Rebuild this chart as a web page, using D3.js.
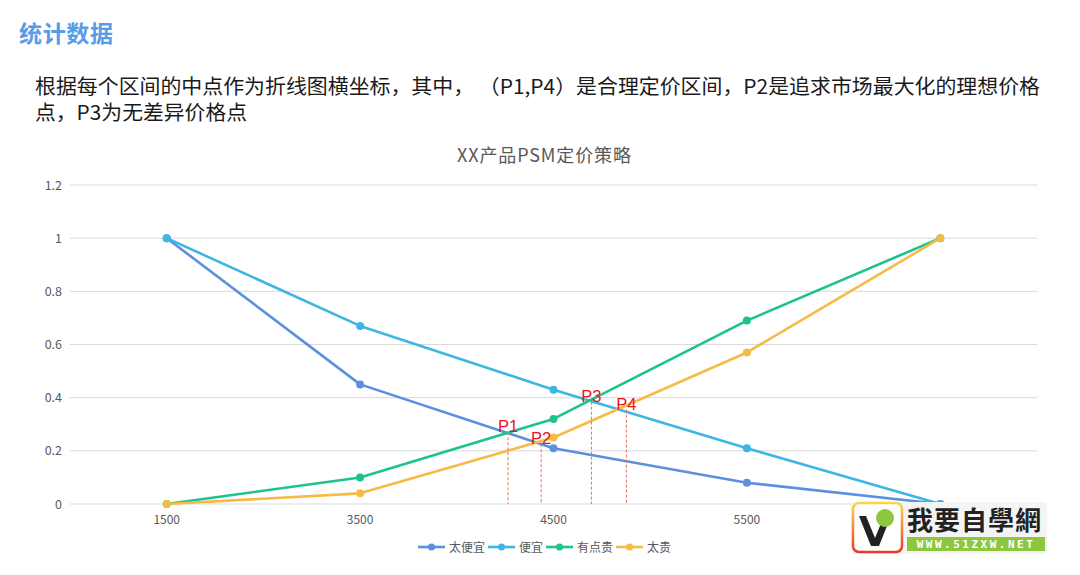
<!DOCTYPE html>
<html><head><meta charset="utf-8">
<script src="https://cdn.jsdelivr.net/npm/d3@7"></script>
<style>
body{margin:0;background:#fff;font-family:"Noto Sans CJK SC","Microsoft YaHei",sans-serif;}
</style></head>
<body><svg id="c" width="1080" height="575"></svg>
<script>
const categories = ["1500","3500","4500","5500","6500"];
const seriesNames = ["太便宜","便宜","有点贵","太贵"];
const tooCheap = [1, 0.45, 0.21, 0.08, 0];
const cheap = [1, 0.67, 0.43, 0.21, 0];
const expensive = [0, 0.10, 0.32, 0.69, 1];
const tooExpensive = [0, 0.04, 0.25, 0.57, 1];
const yTicks = [0, 0.2, 0.4, 0.6, 0.8, 1, 1.2];
const pLabels = ["P1","P2","P3","P4"];
const pPrices = [4265, 4436, 4696, 4877];
const pValues = [0.27, 0.225, 0.385, 0.355];

(function(){
const colors = ["#5B8FDF","#3DB6E3","#1CC38B","#F7BA45"];
const series = [tooCheap, cheap, expensive, tooExpensive];

const svg = d3.select("#c");
const font = '"Noto Sans CJK SC", sans-serif';

svg.append("text").attr("x",19).attr("y",42).attr("font-size",23).attr("font-weight","bold")
  .attr("fill","#5B9BE5").attr("font-family",font).attr("textLength",94).text("统计数据");
svg.append("text").attr("x",35).attr("y",94).attr("font-size",20).attr("fill","#1a1a1a")
  .attr("font-family",font).attr("textLength",1005).attr("lengthAdjust","spacingAndGlyphs")
  .text("根据每个区间的中点作为折线图横坐标，其中， （P1,P4）是合理定价区间，P2是追求市场最大化的理想价格");
svg.append("text").attr("x",35).attr("y",120).attr("font-size",20).attr("fill","#1a1a1a")
  .attr("font-family",font).attr("textLength",212).attr("lengthAdjust","spacingAndGlyphs").text("点，P3为无差异价格点");

svg.append("text").attr("x",457).attr("y",162).attr("font-size",18)
  .attr("fill","#595959").attr("font-family",font).attr("textLength",174).text("XX产品PSM定价策略");

const pl = 70, pr = 1037, pt = 185, pb = 504;
const x = d3.scaleBand().domain(categories).range([pl,pr]);
const cx = c => x(c) + x.bandwidth()/2;
const y = d3.scaleLinear().domain([0,1.2]).range([pb, pt]);
const priceX = d3.scaleLinear().domain(categories.map(Number)).range(categories.map(cx));

svg.append("g").selectAll("line").data(yTicks).join("line")
  .attr("x1",pl).attr("x2",pr).attr("y1",d=>y(d)).attr("y2",d=>y(d))
  .attr("stroke","#d9d9d9").attr("stroke-width",1);

const yAxis = svg.append("g").attr("transform",`translate(${pl},0)`)
  .call(d3.axisLeft(y).tickValues(yTicks).tickSize(0).tickPadding(8).tickFormat(d=>d3.format("~g")(d)));
yAxis.select(".domain").remove();
yAxis.selectAll("text").attr("font-size",12.5).attr("fill","#595959").attr("font-family",font);

const xAxis = svg.append("g").attr("transform",`translate(0,${pb})`)
  .call(d3.axisBottom(x).tickSize(0).tickPadding(11));
xAxis.select(".domain").remove();
xAxis.selectAll("text").attr("font-size",12).attr("fill","#595959").attr("font-family",font);

const line = d3.line().x((d,i)=>cx(categories[i])).y(d=>y(d));
series.forEach((s,k)=>{
  svg.append("path").datum(s).attr("d",line).attr("fill","none")
    .attr("stroke",colors[k]).attr("stroke-width",2.6).attr("stroke-linejoin","round");
});
series.forEach((s,k)=>{
  svg.append("g").selectAll("circle").data(s).join("circle")
    .attr("cx",(d,i)=>cx(categories[i])).attr("cy",d=>y(d)).attr("r",4).attr("fill",colors[k]);
});

pLabels.forEach((p,i)=>{
  const px = priceX(pPrices[i]);
  svg.append("line").attr("x1",px).attr("x2",px).attr("y1",y(pValues[i])).attr("y2",pb)
    .attr("stroke","#E8705F").attr("stroke-width",1).attr("stroke-dasharray","3,2");
  svg.append("text").attr("x",px).attr("y",y(pValues[i])).attr("text-anchor","middle")
    .attr("font-size",16.5).attr("fill","#E8141E").attr("font-family","Arial, 'Liberation Sans', sans-serif").text(p);
});

const legend = svg.append("g");
let lx = 418;
seriesNames.forEach((n,k)=>{
  const g = legend.append("g").attr("transform",`translate(${lx},547)`);
  g.append("line").attr("x1",0).attr("x2",27).attr("y1",0).attr("y2",0).attr("stroke",colors[k]).attr("stroke-width",2.6);
  g.append("circle").attr("cx",13.5).attr("cy",0).attr("r",3.5).attr("fill",colors[k]);
  const t = g.append("text").attr("x",31).attr("y",4.5).attr("font-size",12).attr("fill","#595959")
    .attr("font-family",font).text(n);
  lx += 31 + t.node().getComputedTextLength() + 3;
});

const wm = svg.append("g").attr("transform","translate(851,502)");
const grad = svg.append("defs").append("linearGradient").attr("id","lg").attr("x1",0).attr("y1",0).attr("x2",0).attr("y2",1);
grad.append("stop").attr("offset","0").attr("stop-color","#F9D64A");
grad.append("stop").attr("offset","1").attr("stop-color","#E83A2A");
wm.append("rect").attr("x",0).attr("y",0).attr("width",196).attr("height",52).attr("rx",4).attr("fill","#f4f4f4");
wm.append("rect").attr("x",2).attr("y",1).attr("width",49).attr("height",49).attr("rx",6).attr("fill","#fff")
  .attr("stroke","url(#lg)").attr("stroke-width",2.5);
wm.append("path").attr("d","M8,14 L20,44 L28,44 L40,14 L33,14 L24,36 L15,14 Z").attr("fill","#222");
wm.append("circle").attr("cx",34).attr("cy",16).attr("r",9).attr("fill","#8DC63F");
wm.append("text").attr("x",56).attr("y",28).attr("font-size",26).attr("font-weight","bold").attr("fill","#222")
  .attr("font-family",font).attr("letter-spacing",1).text("我要自學網");
wm.append("rect").attr("x",56).attr("y",35).attr("width",138).attr("height",14).attr("fill","#8DC63F");
wm.append("text").attr("x",125).attr("y",46).attr("text-anchor","middle").attr("font-size",11).attr("font-weight","bold")
  .attr("fill","#fff").attr("letter-spacing",2.5).attr("font-family","'DejaVu Sans Mono', monospace").text("WWW.51ZXW.NET");
})();
</script>
</body></html>
